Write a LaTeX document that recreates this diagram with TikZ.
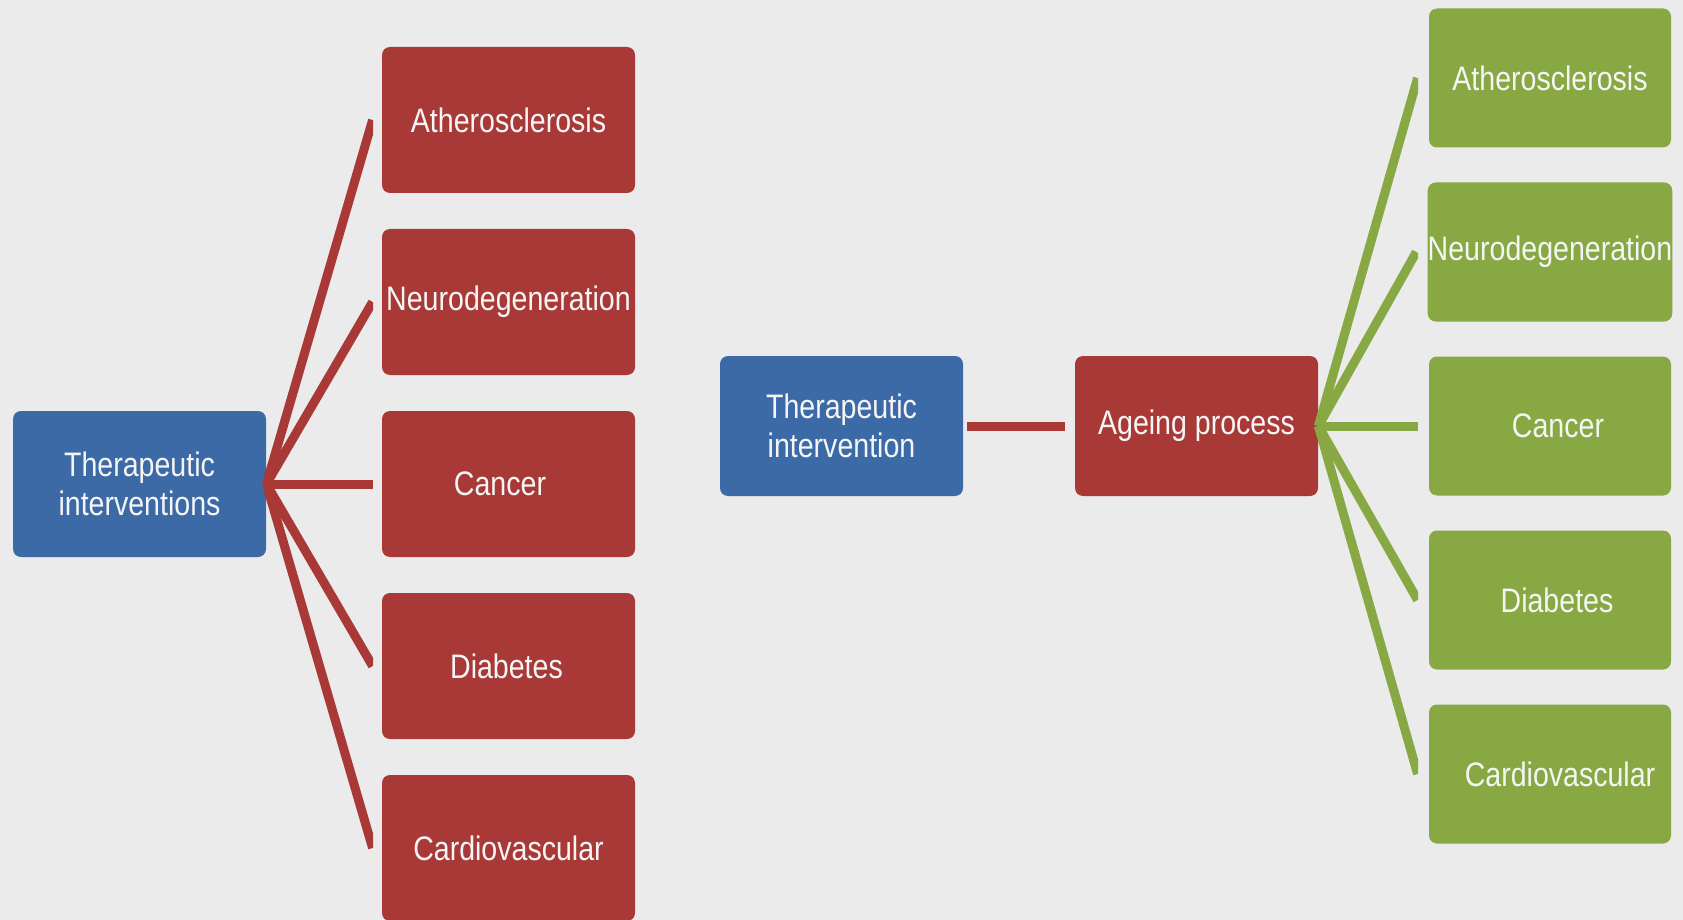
\documentclass[tikz,border=0pt]{standalone}
\usepackage{fontspec}
\setmainfont[FakeStretch=0.84]{Liberation Sans}

\definecolor{boxred}{HTML}{A93937}
\definecolor{boxblue}{HTML}{3B6AA7}
\definecolor{boxgreen}{HTML}{87A842}
\definecolor{bggrey}{HTML}{EBEBEB}

\begin{document}
\begin{tikzpicture}[x=0.5pt, y=-0.5pt,
    box/.style={rectangle, rounded corners=4pt, text=white!96!black, align=center,
      inner sep=0pt, font=\fontsize{17}{19.5}\selectfont},
    bigbox/.style={box, minimum width=126.5pt, minimum height=73pt},
    midbox/.style={box, minimum width=121.5pt, minimum height=70pt},
    greenbox/.style={box, fill=boxgreen, minimum width=121pt, minimum height=69.5pt},
    redline/.style={boxred, line width=4.5pt},
    greenline/.style={boxgreen, line width=4.5pt}]
  \fill[bggrey] (0,0) rectangle (1683,920);
  \useasboundingbox (0,0) rectangle (1683,920);

  % left panel
  \node[bigbox, fill=boxblue] (ti) at (139.5,484) {Therapeutic\\interventions};

  \node[bigbox, fill=boxred] (lath) at (508.5,120) {Atherosclerosis};
  \node[bigbox, fill=boxred] (lneu) at (508.5,302) {Neurodegeneration};
  \node[bigbox, fill=boxred] (lcan) at (508.5,484) {\hspace{-8.5pt}Cancer};
  \node[bigbox, fill=boxred] (ldia) at (508.5,666) {\hspace{-2pt}Diabetes};
  \node[bigbox, fill=boxred] (lcar) at (508.5,848) {Cardiovascular};

  \begin{scope}
    \clip (0,0) rectangle (373,920);
    \draw[redline] (ti.east) -- ([xshift=-4.5pt]lath.west);
    \draw[redline] (ti.east) -- ([xshift=-4.5pt]lneu.west);
    \draw[redline] (ti.east) -- ([xshift=-4.5pt]lcan.west);
    \draw[redline] (ti.east) -- ([xshift=-4.5pt]ldia.west);
    \draw[redline] (ti.east) -- ([xshift=-4.5pt]lcar.west);
  \end{scope}

  % right panel
  \node[midbox, fill=boxblue] (tin) at (841.5,426) {Therapeutic\\intervention};
  \node[midbox, fill=boxred] (age) at (1196.5,426) {Ageing process};

  \draw[redline, shorten <=2pt, shorten >=5pt] (tin.east) -- (age.west);

  \node[greenbox] (rath) at (1550,78) {Atherosclerosis};
  \node[greenbox] (rneu) at (1550,252) {Neurodegeneration};
  \node[greenbox] (rcan) at (1550,426) {\hspace{8pt}Cancer};
  \node[greenbox] (rdia) at (1550,600) {\hspace{7pt}Diabetes};
  \node[greenbox] (rcar) at (1550,774) {\hspace{10pt}Cardiovascular};

  \begin{scope}
    \clip (0,0) rectangle (1418,920);
    \draw[greenline] (age.east) -- ([xshift=-5.5pt]rath.west);
    \draw[greenline] (age.east) -- ([xshift=-5.5pt]rneu.west);
    \draw[greenline] (age.east) -- ([xshift=-5.5pt]rcan.west);
    \draw[greenline] (age.east) -- ([xshift=-5.5pt]rdia.west);
    \draw[greenline] (age.east) -- ([xshift=-5.5pt]rcar.west);
  \end{scope}
\end{tikzpicture}
\end{document}
